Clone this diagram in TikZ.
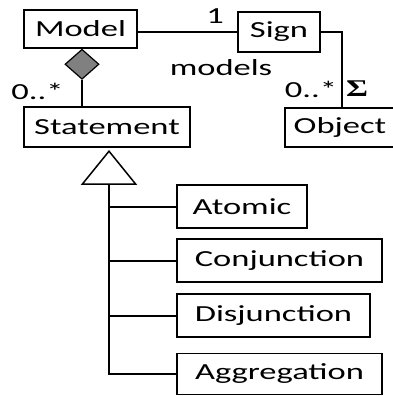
\documentclass[tikz,border=0pt]{standalone}
\usepackage{fontspec}
\usetikzlibrary{shapes.geometric}
\newfontfamily\uifont[FakeStretch=1.5]{Carlito}
\newfontfamily\sigmafont[FakeStretch=1.4]{Liberation Serif}
\tikzset{
  umlbox/.style={draw, line width=1.3pt, inner sep=0pt, font=\uifont\fontsize{23}{27}\selectfont},
  link/.style={line width=2pt},
  lbl/.style={inner sep=0pt, font=\uifont\fontsize{23}{27}\selectfont},
}
\begin{document}
\begin{tikzpicture}[x=1pt, y=-1pt]
  \clip (0,0) rectangle (393,396);
  % classes
  \node[umlbox, minimum width=113pt, minimum height=38pt] (model) at (80.5,29) {Model};
  \node[umlbox, minimum width=82pt, minimum height=40pt] (sign) at (279,32) {Sign};
  \node[umlbox, minimum width=166pt, minimum height=40pt] (stmt) at (107,127) {Statement};
  \node[umlbox, minimum width=110pt, minimum height=39pt] (object) at (340,127.5) {Object};
  \node[umlbox, minimum width=130pt, minimum height=43pt] (atomic) at (242,206.5) {Atomic};
  \node[umlbox, minimum width=205pt, minimum height=43pt] (conj) at (279.5,260.5) {Conjunction};
  \node[umlbox, minimum width=193pt, minimum height=43pt] (disj) at (273.5,315.5) {Disjunction};
  \node[umlbox, minimum width=205pt, minimum height=41pt] (aggr) at (279.5,374) {Aggregation};

  % composition: Model <>-- Statement
  \node[diamond, draw, line width=1.2pt, fill=black!50, inner sep=0pt,
        minimum width=34pt, minimum height=30pt, anchor=north] (dia) at ([xshift=1.5pt]model.south) {};
  \draw[link] (dia.south) -- (dia.south |- stmt.north);

  % association Model -- Sign
  \draw[link] (sign.west -| model.east) -- (sign.west);

  % association Sign -- Object
  \coordinate (objtop) at (342,0 |- object.north);
  \draw[link] (sign.east) -| (objtop);

  % generalization
  \node[isosceles triangle, isosceles triangle apex angle=78, shape border rotate=90,
        draw, line width=1.5pt, fill=white, inner sep=0pt,
        minimum height=33pt, anchor=apex] (gen) at (109,150) {};
  \coordinate (trunk) at (gen.south |- aggr.west);
  \draw[link] (gen.south) -- (trunk) -- (aggr.west);
  \draw[link] (gen.south |- atomic.west) -- (atomic.west);
  \draw[link] (gen.south |- conj.west) -- (conj.west);
  \draw[link] (gen.south |- disj.west) -- (disj.west);

  % multiplicities and role names
  \node[lbl] (m1) at (215,16) {1};
  \node[lbl] (mod) at (221,68) {models};
  \node[lbl] (mst) at (37.5,91) {0..*};
  \node[lbl] (mobj) at (311,89) {0..*};
  \node[inner sep=0pt, font=\sigmafont\bfseries\fontsize{24}{26}\selectfont] (sig) at (357,89) {Σ};
\end{tikzpicture}
\end{document}
